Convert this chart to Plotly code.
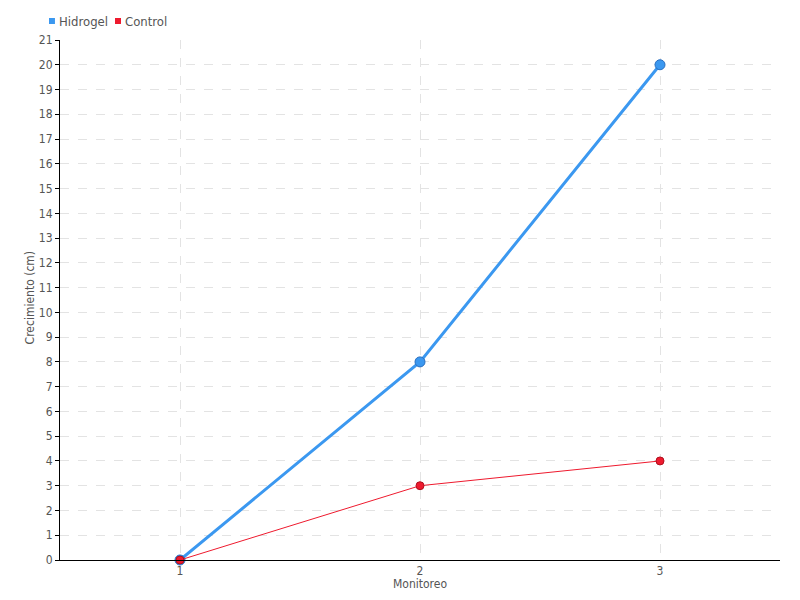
import plotly.graph_objects as go

categories = ["1", "2", "3"]
hidrogel = [0, 8, 20]
control = [0, 3, 4]
y_ticks = list(range(0, 22))
series_names = ["Hidrogel", "Control"]

FONT = "DejaVu Sans Condensed, Roboto Condensed, sans-serif"
BLUE = "#3b98f0"
RED = "#ee1a2e"
TXT = "#555555"

fig = go.Figure()
fig.add_trace(go.Scatter(x=categories, y=hidrogel, mode="lines+markers", name=series_names[0],
                         line=dict(color=BLUE, width=3),
                         marker=dict(size=10, color=BLUE, line=dict(color="#2a6fc0", width=1)),
                         showlegend=False, cliponaxis=False))
fig.add_trace(go.Scatter(x=categories, y=control, mode="lines+markers", name=series_names[1],
                         line=dict(color=RED, width=1),
                         marker=dict(size=8, color=RED, line=dict(color="#b0101e", width=1)),
                         showlegend=False, cliponaxis=False))

# manual legend (square swatch + label), page body has an 8px offset
legend_items = [(series_names[0], BLUE, -0.0153), (series_names[1], RED, 0.0764)]
for name, color, x0 in legend_items:
    fig.add_shape(type="rect", xref="paper", yref="paper", x0=x0, x1=x0 + 0.0083,
                  y0=1.0308, y1=1.0423, fillcolor=color, line=dict(width=0))
    fig.add_annotation(text=name, xref="paper", yref="paper", x=x0 + 0.0111, y=1.0365,
                       xanchor="left", yanchor="middle", showarrow=False,
                       font=dict(size=13, color=TXT))

fig.add_annotation(text="Monitoreo", xref="paper", yref="paper", x=0.5, y=-0.0462,
                   xanchor="center", yanchor="middle", showarrow=False,
                   font=dict(size=12, color=TXT))
fig.add_annotation(text="Crecimiento (cm)", xref="paper", yref="paper", x=-0.0417, y=0.505,
                   xanchor="center", yanchor="middle", showarrow=False, textangle=-90,
                   font=dict(size=12, color=TXT))

fig.update_layout(
    width=800, height=600,
    paper_bgcolor="white", plot_bgcolor="white",
    margin=dict(l=52, r=28, t=32, b=48, autoexpand=False),
    font=dict(family=FONT, size=12, color=TXT),
    showlegend=False,
    xaxis=dict(type="category", range=[-0.5, 2.5], showline=True, linecolor="black", linewidth=1,
               showgrid=True, gridcolor="#e3e3e3", griddash="dash", ticks="", ticklen=0,
               tickfont=dict(size=12), zeroline=False, automargin=False),
    yaxis=dict(range=[0, 21], tickvals=y_ticks, showline=True, linecolor="black", linewidth=1,
               showgrid=True, gridcolor="#e3e3e3", griddash="dash", ticks="outside", ticklen=4,
               tickcolor="black", zeroline=False, automargin=False,
               tickfont=dict(size=12)),
)

fig.write_html("out.html")
